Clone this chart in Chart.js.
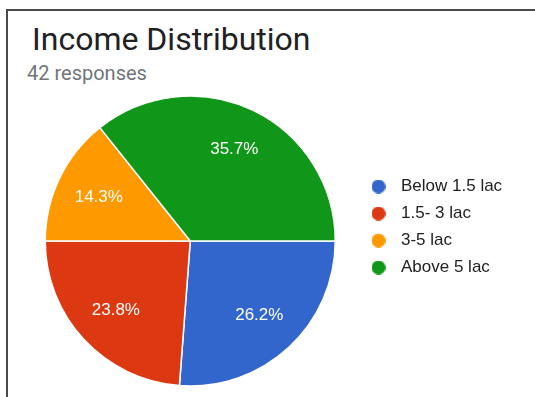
<!DOCTYPE html>
<html>
<head>
<meta charset="utf-8">
<script src="https://cdn.jsdelivr.net/npm/chart.js@4"></script>
<style>
  html, body { margin: 0; background: #fff; overflow: hidden; }
  #frame {
    position: absolute; left: 6px; top: 9px; width: 527px; height: 386px;
    border-top: 2px solid #4a4a4a; border-left: 2px solid #4a4a4a;
  }
  #titulo {
    position: absolute; left: 32px; top: 20px;
    font: 32px Roboto, sans-serif; color: #202124; white-space: nowrap;
  }
  #sub {
    position: absolute; left: 27px; top: 61px;
    font: 20px Roboto, sans-serif; color: #70757a; white-space: nowrap;
  }
  #wrap { position: absolute; left: 0; top: 0; width: 535px; height: 397px; }
</style>
</head>
<body>
<div id="frame"></div>
<div id="titulo">Income Distribution</div>
<div id="sub">42 responses</div>
<div id="wrap"><canvas id="graficoRenda" width="535" height="397"></canvas></div>
<script>
// dados (contagem de respostas por faixa)
const faixas = ["Below 1.5 lac", "1.5- 3 lac", "3-5 lac", "Above 5 lac"];
const respostas = [11, 10, 6, 15];
const cores = ["#3366cc", "#dc3912", "#ff9900", "#109618"];

const fonteLegenda = { family: "'Liberation Sans', Arial, sans-serif", size: 17 };

// bolinhas da legenda desenhadas como imagem, assim o espaço até o texto fica livre
function criarBolinha(cor) {
  const c = document.createElement("canvas");
  c.width = 14; c.height = 14;
  const g = c.getContext("2d");
  g.fillStyle = cor;
  g.beginPath();
  g.arc(7, 7, 7, 0, Math.PI * 2);
  g.fill();
  return c;
}
const bolinhas = cores.map(criarBolinha);

// mede o maior rótulo para encostar a legenda no lugar certo
function larguraMaiorRotulo() {
  const g = document.createElement("canvas").getContext("2d");
  g.font = fonteLegenda.size + "px " + fonteLegenda.family;
  return Math.max(...faixas.map(t => g.measureText(t).width));
}
const larguraLegenda = 10 + 28 + fonteLegenda.size / 2 + larguraMaiorRotulo() + 10;
const padDireita = Math.max(0, 535 - 354.5 - larguraLegenda);

// escreve as porcentagens dentro de cada fatia
const rotulosPorcentagem = {
  id: "rotulosPorcentagem",
  afterDatasetsDraw(chart) {
    const ctx = chart.ctx;
    const meta = chart.getDatasetMeta(0);
    const total = respostas.reduce((a, b) => a + b, 0);
    ctx.save();
    ctx.font = "17px 'Liberation Sans', Arial, sans-serif";
    ctx.fillStyle = "#ffffff";
    ctx.textAlign = "center";
    ctx.textBaseline = "middle";
    meta.data.forEach((arco, i) => {
      const p = arco.getProps(["x", "y", "startAngle", "endAngle", "outerRadius"], true);
      const meio = (p.startAngle + p.endAngle) / 2;
      const r = p.outerRadius * 0.7;
      const texto = (respostas[i] / total * 100).toFixed(1) + "%";
      ctx.fillText(texto, p.x + Math.cos(meio) * r, p.y + Math.sin(meio) * r);
    });
    ctx.restore();
  }
};

const chart = new Chart(document.getElementById("graficoRenda"), {
  type: "pie",
  data: {
    labels: faixas,
    datasets: [{
      data: respostas,
      backgroundColor: cores,
      borderColor: "#ffffff",
      borderWidth: 1.5,
      clip: false
    }]
  },
  options: {
    responsive: false,
    animation: false,
    rotation: 90,
    radius: 145,
    layout: { padding: { left: 26, right: padDireita, top: 168, bottom: 83 } },
    plugins: {
      tooltip: { enabled: false },
      legend: {
        position: "right",
        align: "start",
        labels: {
          font: fonteLegenda,
          color: "#222222",
          padding: 10,
          usePointStyle: true,
          pointStyleWidth: 28,
          generateLabels: () => faixas.map((texto, i) => ({
            text: texto,
            fillStyle: cores[i],
            strokeStyle: cores[i],
            lineWidth: 0,
            pointStyle: bolinhas[i],
            fontColor: "#222222",
            hidden: false,
            index: i
          }))
        }
      }
    }
  },
  plugins: [rotulosPorcentagem]
});
</script>
</body>
</html>
